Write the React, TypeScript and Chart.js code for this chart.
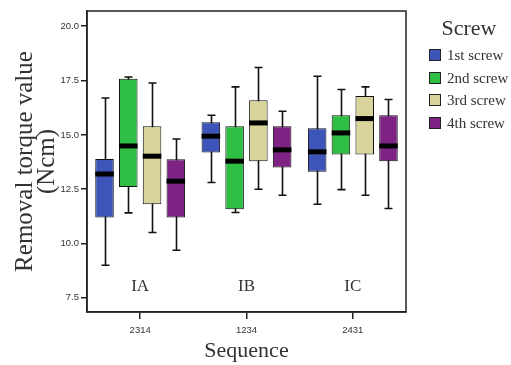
import React, { useEffect, useRef } from "react";
import { Chart, registerables } from "chart.js";

Chart.register(...registerables);

const categories = ["2314", "1234", "2431"];
const groupLabels = ["IA", "IB", "IC"];
const seriesNames = ["1st screw", "2nd screw", "3rd screw", "4th screw"];
const seriesColors = ["#3D55B8", "#2FBF44", "#D9D49B", "#7E2383"];

// per series: [min, q1, median, q3, max] for each category
const screw1 = [
  [9.0, 11.2, 13.2, 13.89, 16.7],
  [12.81, 14.19, 14.94, 15.58, 15.9],
  [11.81, 13.3, 14.22, 15.31, 17.7],
];
const screw2 = [
  [11.41, 12.6, 14.49, 17.58, 17.66],
  [11.43, 11.58, 13.79, 15.4, 17.21],
  [12.48, 14.1, 15.09, 15.9, 17.09],
];
const screw3 = [
  [10.51, 11.81, 14.02, 15.4, 17.39],
  [12.5, 13.79, 15.55, 16.59, 18.1],
  [12.22, 14.1, 15.75, 16.79, 17.21],
];
const screw4 = [
  [9.69, 11.2, 12.87, 13.88, 14.81],
  [12.22, 13.5, 14.31, 15.4, 16.09],
  [11.61, 13.79, 14.49, 15.9, 16.63],
];
const allSeries = [screw1, screw2, screw3, screw4];

const yMin = 6.85;
const yMax = 20.7;
const yStep = 2.5;
const labelValue = 8.0;

const SERIF = "'Liberation Serif', 'DejaVu Serif', serif";
const SANS = "'Liberation Sans', Arial, sans-serif";

const boxplotPlugin = {
  id: "boxplotParts",
  beforeDatasetsDraw(chart: any) {
    const ctx = chart.ctx;
    const y = chart.scales.y;
    ctx.save();
    ctx.strokeStyle = "#111";
    ctx.lineWidth = 1.6;
    chart.data.datasets.forEach((ds: any, i: number) => {
      const meta = chart.getDatasetMeta(i);
      meta.data.forEach((bar: any, j: number) => {
        const st = ds.stats[j];
        const x = Math.round(bar.x) + 0.5;
        const yLo = y.getPixelForValue(st[0]);
        const yHi = y.getPixelForValue(st[4]);
        ctx.beginPath();
        ctx.moveTo(x, yLo);
        ctx.lineTo(x, yHi);
        ctx.moveTo(x - 4, yLo);
        ctx.lineTo(x + 4, yLo);
        ctx.moveTo(x - 4, yHi);
        ctx.lineTo(x + 4, yHi);
        ctx.stroke();
      });
    });
    ctx.restore();
  },
  afterDatasetsDraw(chart: any) {
    const ctx = chart.ctx;
    const y = chart.scales.y;
    const x = chart.scales.x;
    ctx.save();
    ctx.fillStyle = "#000";
    chart.data.datasets.forEach((ds: any, i: number) => {
      const meta = chart.getDatasetMeta(i);
      meta.data.forEach((bar: any, j: number) => {
        const st = ds.stats[j];
        const ym = y.getPixelForValue(st[2]);
        ctx.fillRect(bar.x - bar.width / 2, ym - 2.5, bar.width, 5);
      });
    });
    // group labels
    ctx.font = `17px ${SERIF}`;
    ctx.fillStyle = "#333";
    ctx.textAlign = "center";
    ctx.textBaseline = "middle";
    groupLabels.forEach((g, j) => {
      ctx.fillText(g, x.getPixelForValue(j), y.getPixelForValue(labelValue));
    });
    // frame
    const a = chart.chartArea;
    ctx.strokeStyle = "#222";
    ctx.lineWidth = 1.5;
    ctx.strokeRect(a.left, a.top, a.right - a.left, a.bottom - a.top);
    ctx.restore();
  },
  afterDraw(chart: any) {
    const ctx = chart.ctx;
    ctx.save();
    ctx.fillStyle = "#333";
    ctx.textAlign = "center";
    ctx.textBaseline = "middle";
    ctx.font = `22px ${SERIF}`;
    ctx.fillText("Screw", 469, 29);
    ctx.font = `15px ${SERIF}`;
    ctx.textAlign = "left";
    const rows = [55, 78, 100, 123];
    chart.data.datasets.forEach((ds: any, i: number) => {
      const yy = rows[i];
      ctx.fillStyle = ds.backgroundColor;
      ctx.fillRect(429, yy - 6, 12, 12);
      ctx.strokeStyle = "#222";
      ctx.lineWidth = 1;
      ctx.strokeRect(429.5, yy - 5.5, 11, 11);
      ctx.fillStyle = "#333";
      ctx.fillText(ds.label, 447, yy + 1);
    });
    ctx.restore();
  },
};

export default function App() {
  const ref = useRef<HTMLCanvasElement>(null);
  useEffect(() => {
    if (!ref.current) return;
    const chart = new Chart(ref.current, {
      type: "bar",
      data: {
        labels: categories,
        datasets: allSeries.map((s, i) => ({
          label: seriesNames[i],
          data: s.map((st) => [st[1], st[3]]),
          stats: s,
          backgroundColor: seriesColors[i],
          borderColor: "#111",
          borderWidth: 1,
          borderSkipped: false,
          categoryPercentage: 0.894,
          barPercentage: 0.78,
        })) as any,
      },
      options: {
        responsive: false,
        animation: false,
        layout: { padding: { top: 11, right: 105, left: 0, bottom: 0 } },
        plugins: {
          legend: { display: false },
          tooltip: { enabled: false },
          title: { display: false },
        },
        scales: {
          x: {
            offset: true,
            grid: {
              display: true,
              drawOnChartArea: false,
              drawTicks: true,
              tickLength: 7,
              offset: false,
              color: "#222",
              lineWidth: 1.5,
            },
            border: { display: true, color: "#222", width: 1.5 },
            ticks: {
              font: { family: SANS, size: 9.5 },
              color: "#333",
              padding: 6,
            },
            title: {
              display: true,
              text: "Sequence",
              font: { family: SERIF, size: 22 },
              color: "#333",
              padding: { top: 0, bottom: 1 },
            },
            afterFit: (s: any) => {
              s.height = 53;
            },
          },
          y: {
            min: yMin,
            max: yMax,
            grid: {
              display: true,
              drawOnChartArea: false,
              drawTicks: true,
              tickLength: 6,
              color: "#222",
              lineWidth: 1.5,
            },
            border: { display: true, color: "#222", width: 1.5 },
            ticks: {
              stepSize: yStep,
              includeBounds: false,
              font: { family: SANS, size: 9.5 },
              color: "#333",
              padding: 2,
              callback: (v: any) => Number(v).toFixed(1),
            },
            title: {
              display: true,
              text: ["Removal torque value", "(Ncm)"],
              font: { family: SERIF, size: 25, lineHeight: 0.9 },
              color: "#333",
              padding: { top: 14, bottom: 0 },
            },
            afterFit: (s: any) => {
              s.width = 87;
            },
          },
        },
      } as any,
      plugins: [boxplotPlugin],
    });
    return () => chart.destroy();
  }, []);
  return (
    <div style={{ position: "fixed", left: 0, top: 0, width: 511, height: 365, background: "#fff" }}>
      <canvas ref={ref} width={511} height={365} />
    </div>
  );
}
